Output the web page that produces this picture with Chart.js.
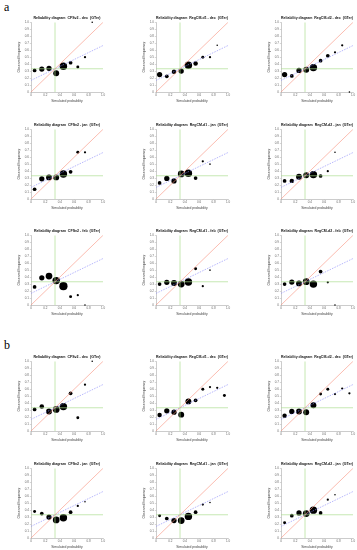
<!DOCTYPE html>
<html><head><meta charset="utf-8">
<script src="https://cdn.jsdelivr.net/npm/chart.js@4"></script>
<style>
html,body{margin:0;padding:0;background:#fff;width:357px;height:550px;overflow:hidden;position:relative}
.lab{position:absolute;font-family:"Liberation Serif","DejaVu Serif",serif;font-size:12px;color:#000;line-height:12px}
canvas{position:absolute}
</style></head><body>
<div class="lab" style="left:4px;top:1px">a</div>
<div class="lab" style="left:4px;top:339px">b</div>
<script>
// ---- data ----
const bins = [0.05, 0.15, 0.25, 0.35, 0.45, 0.55, 0.65, 0.75, 0.85, 0.95];
const xTicks = [0, 0.2, 0.4, 0.6, 0.8, 1];
const yTicks = [0, 0.1, 0.2, 0.3, 0.4, 0.5, 0.6, 0.7, 0.8, 0.9, 1];
const climFreq = 1 / 3;

const titles = [
  "Reliability diagram  CFSv2 - dec  (GTer)", "Reliability diagram  RegCM-d1 - dec  (GTer)", "Reliability diagram  RegCM-d2 - dec  (GTer)",
  "Reliability diagram  CFSv2 - jan  (GTer)", "Reliability diagram  RegCM-d1 - jan  (GTer)", "Reliability diagram  RegCM-d2 - jan  (GTer)",
  "Reliability diagram  CFSv2 - feb  (GTer)", "Reliability diagram  RegCM-d1 - feb  (GTer)", "Reliability diagram  RegCM-d2 - feb  (GTer)",
  "Reliability diagram  CFSv2 - dec  (GTer)", "Reliability diagram  RegCM-d1 - dec  (GTer)", "Reliability diagram  RegCM-d2 - dec  (GTer)",
  "Reliability diagram  CFSv2 - jan  (GTer)", "Reliability diagram  RegCM-d1 - jan  (GTer)", "Reliability diagram  RegCM-d2 - jan  (GTer)"
];

// observed frequency per probability bin (null = empty bin)
const obsA1 = [0.31, 0.33, 0.34, 0.27, 0.37, 0.42, 0.36, 0.50, 1.00, null];
const obsA2 = [0.25, 0.225, 0.29, 0.30, 0.385, 0.41, 0.50, 0.50, 0.67, null];
const obsA3 = [0.25, 0.23, 0.31, 0.32, 0.35, 0.45, 0.52, 0.57, 0.67, 0.0];
const obsA4 = [0.14, 0.29, 0.31, 0.31, 0.36, 0.39, 0.67, 0.67, null, null];
const obsA5 = [0.23, 0.295, 0.26, 0.36, 0.37, 0.30, 0.54, 0.50, null, null];
const obsA6 = [0.26, 0.26, 0.32, 0.34, 0.35, 0.33, 0.40, 0.67, null, null];
const obsA7 = [0.26, 0.39, 0.415, 0.35, 0.27, 0.12, 0.14, 0.0, null, null];
const obsA8 = [0.30, 0.325, 0.315, 0.30, 0.33, 0.52, 0.27, 0.50, null, null];
const obsA9 = [0.30, 0.33, 0.31, 0.335, 0.30, 0.48, 0.325, 0.0, null, null];
const obsB1 = [0.31, 0.35, 0.28, 0.31, 0.35, 0.54, 0.19, 0.665, 1.00, null];
const obsB2 = [0.23, 0.29, 0.27, 0.235, 0.425, 0.44, 0.60, 0.63, 0.62, 0.51];
const obsB3 = [0.22, 0.28, 0.28, 0.27, 0.37, 0.53, 0.60, 0.53, 0.61, 0.54];
const obsB4 = [0.38, 0.35, 0.30, 0.26, 0.29, 0.37, 0.46, 0.52, null, null];
const obsB5 = [0.32, 0.28, 0.25, 0.25, 0.31, 0.37, 0.48, 0.51, null, null];
const obsB6 = [0.22, 0.32, 0.36, 0.35, 0.40, 0.36, 0.55, 0.62, null, null];

// number of forecasts per bin
const cntA1 = [11, 22, 22, 28, 44, 11, 7, 4, 2, 0];
const cntA2 = [22, 11, 16, 22, 44, 16, 7, 4, 2, 0];
const cntA3 = [22, 11, 22, 28, 44, 11, 11, 4, 4, 2];
const cntA4 = [11, 22, 28, 28, 44, 11, 7, 4, 0, 0];
const cntA5 = [11, 22, 22, 36, 44, 11, 4, 2, 0, 0];
const cntA6 = [11, 16, 28, 28, 44, 11, 4, 2, 0, 0];
const cntA7 = [11, 22, 36, 44, 54, 7, 4, 2, 0, 0];
const cntA8 = [11, 22, 28, 36, 44, 7, 4, 2, 0, 0];
const cntA9 = [11, 22, 28, 36, 44, 11, 4, 2, 0, 0];
const cntB1 = [11, 16, 28, 36, 44, 11, 7, 4, 2, 0];
const cntB2 = [16, 22, 22, 28, 28, 11, 7, 4, 4, 7];
const cntB3 = [16, 22, 28, 28, 28, 7, 7, 4, 4, 4];
const cntB4 = [7, 11, 22, 36, 44, 11, 4, 2, 0, 0];
const cntB5 = [7, 11, 22, 36, 44, 11, 4, 2, 0, 0];
const cntB6 = [7, 11, 22, 36, 44, 11, 4, 2, 0, 0];

const obsList = [obsA1, obsA2, obsA3, obsA4, obsA5, obsA6, obsA7, obsA8, obsA9, obsB1, obsB2, obsB3, obsB4, obsB5, obsB6];
const cntList = [cntA1, cntA2, cntA3, cntA4, cntA5, cntA6, cntA7, cntA8, cntA9, cntB1, cntB2, cntB3, cntB4, cntB5, cntB6];

// ---- layout ----
const colLeft = [31, 156, 281];
const rowTop = [22, 129, 235, 361, 468];
const plotW = 72, plotH = 70;
const yAxisW = 14, xAxisH = 11, padR = 5;

function makeConfig(i) {
  const obs = obsList[i], cnt = cntList[i];
  const pts = [];
  bins.forEach((b, k) => {
    if (obs[k] !== null && cnt[k] > 0) pts.push({ x: b, y: obs[k], r: 0.56 * Math.sqrt(cnt[k]) });
  });
  const tickFont = { size: 3, family: "Liberation Sans, Arial, sans-serif" };
  return {
    type: 'bubble',
    data: {
      datasets: [
        { type: 'line', data: [{ x: 0, y: 0 }, { x: 1, y: 1 }], borderColor: 'rgba(248,150,130,0.9)', borderWidth: 0.7, pointRadius: 0 },
        { type: 'line', data: [{ x: 0, y: climFreq / 2 }, { x: 1, y: (1 + climFreq) / 2 }], borderColor: 'rgba(140,140,250,0.9)', borderDash: [1.5, 1.2], borderWidth: 0.7, pointRadius: 0 },
        { type: 'line', data: [{ x: 0, y: climFreq }, { x: 1, y: climFreq }], borderColor: 'rgba(170,220,140,0.95)', borderWidth: 0.7, pointRadius: 0 },
        { type: 'line', data: [{ x: climFreq, y: 0 }, { x: climFreq, y: 1 }], borderColor: 'rgba(170,220,140,0.95)', borderWidth: 0.7, pointRadius: 0 },
        { type: 'bubble', data: pts, backgroundColor: '#000', borderWidth: 0, clip: false }
      ]
    },
    options: {
      responsive: false, animation: false, devicePixelRatio: 1,
      layout: { padding: { left: 0, right: padR, top: 0, bottom: 0 } },
      plugins: {
        legend: { display: false }, tooltip: { enabled: false },
        title: { display: true, text: titles[i], fullSize: false, color: '#111',
          font: { size: 3.6, weight: 'bold', family: "Liberation Sans, Arial, sans-serif" }, padding: { top: 0, bottom: 2 } }
      },
      scales: {
        x: {
          type: 'linear', min: 0, max: 1,
          afterBuildTicks: s => { s.ticks = xTicks.map(v => ({ value: v })); },
          afterFit: s => { s.height = xAxisH; },
          ticks: { font: tickFont, color: '#666', padding: 0.5, maxRotation: 0, autoSkip: false },
          grid: { drawOnChartArea: false, drawTicks: true, tickLength: 1.2, color: '#999', lineWidth: 0.4 },
          border: { color: '#999', width: 0.5 },
          title: { display: true, text: 'Simulated probability', font: { size: 3.4, family: "Liberation Sans, Arial, sans-serif" }, color: '#444', padding: 0 }
        },
        y: {
          type: 'linear', min: 0, max: 1,
          afterBuildTicks: s => { s.ticks = yTicks.map(v => ({ value: v })); },
          afterFit: s => { s.width = yAxisW; },
          ticks: { font: tickFont, color: '#666', padding: 1, autoSkip: false },
          grid: { drawOnChartArea: false, drawTicks: true, tickLength: 1.2, color: '#999', lineWidth: 0.4 },
          border: { color: '#999', width: 0.5 },
          title: { display: true, text: 'Observed frequency', font: { size: 3.4, family: "Liberation Sans, Arial, sans-serif" }, color: '#444', padding: 0 }
        }
      }
    }
  };
}

// measure chart-area offsets once
const test = document.createElement('canvas');
test.width = 120; test.height = 100;
document.body.appendChild(test);
const tc = new Chart(test, makeConfig(0));
const ca = tc.chartArea;
const offL = ca.left, offT = ca.top;
const extraW = 120 - (ca.right - ca.left);
const extraH = 100 - (ca.bottom - ca.top);
tc.destroy();
test.remove();

for (let i = 0; i < 15; i++) {
  const r = Math.floor(i / 3), c = i % 3;
  const cv = document.createElement('canvas');
  cv.width = Math.round(plotW + extraW);
  cv.height = Math.round(plotH + extraH);
  cv.style.left = (colLeft[c] - offL) + 'px';
  cv.style.top = (rowTop[r] - offT) + 'px';
  document.body.appendChild(cv);
  new Chart(cv, makeConfig(i));
}
</script>
</body></html>
